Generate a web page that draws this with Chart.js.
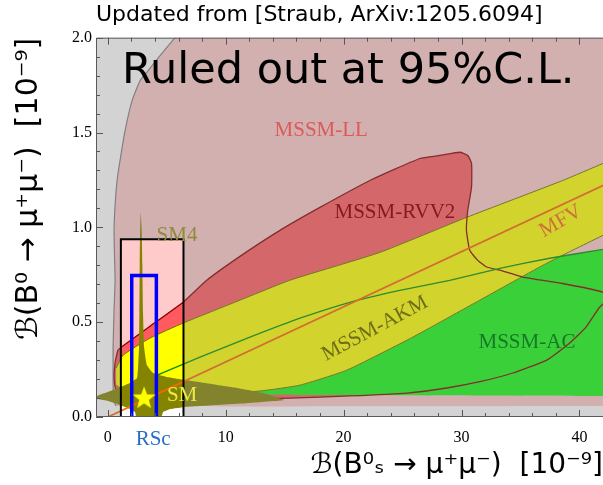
<!DOCTYPE html>
<html><head><meta charset="utf-8">
<script src="https://cdn.jsdelivr.net/npm/chart.js@4.4.1/dist/chart.umd.min.js"></script>
<style>html,body{margin:0;padding:0;background:#fff;}#c{display:block;}</style>
</head><body>
<canvas id="c" width="603" height="485"></canvas>
<script>
// ---------- values (x: B(Bs->mumu), y: B(B0->mumu), units 1e-9) ----------
const llEdge = [[6.4,2.05],[5.70,2.0],[4.43,1.905],[3.42,1.826],[2.74,1.774],[2.06,1.668],[1.47,1.511],[1.04,1.353],[0.79,1.247],[0.62,1.116],[0.53,0.984],[0.58,0.826],[0.62,0.721],[0.53,0.563],[0.45,0.368],[0.45,0.195],[0.48,0.089],[0.70,0.058]];
const llOuter = [[42.5,0.058],[45,0.058],[45,2.2],[6.9,2.2]];
const rvv2Region = [[0.62,0.289],[0.87,0.353],[1.19,0.370],[3.58,0.479],[6.41,0.607],[8.39,0.721],[11.21,0.847],[14.6,0.984],[17.99,1.105],[22.23,1.247],[26.47,1.363],[28.16,1.379],[29.86,1.396],[30.53,1.379],[30.85,1.337],[30.85,1.212],[30.53,1.089],[30.42,0.984],[30.70,0.879],[31.38,0.826],[32.12,0.791],[33.25,0.774],[35.19,0.738],[38.58,0.704],[41.97,0.659],[42.6,0.63],[41.72,0.58],[40.56,0.474],[39.16,0.389],[37.23,0.300],[34.35,0.232],[31.55,0.186],[28.75,0.153],[25.36,0.126],[20.53,0.111],[15.45,0.100],[7.82,0.089],[1.89,0.089],[0.70,0.142],[0.53,0.221],[0.62,0.289]];
const acUpper = [[3.58,0.205],[7.82,0.316],[12.06,0.421],[16.30,0.521],[20.53,0.605],[24.77,0.668],[29.0,0.721],[33.25,0.784],[37.48,0.837],[42,0.884],[45,0.915]];
const acLower = [[45,0.111],[42,0.111],[16.3,0.116],[3.58,0.126]];
const akmUpper = [[0.71,0.258],[1.30,0.326],[3.58,0.416],[6.38,0.495],[11.21,0.616],[15.45,0.721],[23.08,0.868],[30.45,1.053],[38.58,1.247],[42,1.337],[45,1.416]];
const akmLower = [[45,1.05],[42,0.958],[37.23,0.811],[31.55,0.616],[25.86,0.421],[20.27,0.247],[16.3,0.168],[12.91,0.137],[7.82,0.121],[1.89,0.121],[0.71,0.168]];
const smRegion = [[-1.2,0.105],[0.45,0.142],[1.89,0.179],[2.48,0.205],[2.57,0.263],[2.65,0.368],[2.68,0.547],[2.71,0.811],[2.74,0.984],[2.80,1.079],[2.88,0.984],[2.93,0.811],[2.99,0.547],[3.08,0.368],[3.31,0.274],[3.84,0.232],[5.0,0.211],[7.54,0.186],[10.36,0.159],[13.16,0.126],[14.94,0.089],[12.06,0.074],[7.82,0.058],[6.55,0.053],[5.28,0.042],[4.69,0.026],[4.43,-0.02],[2.48,-0.02],[2.31,0.026],[1.89,0.042],[1.04,0.063],[0.03,0.084],[-1.2,0.098]];
const mfvLine = [[0,0],[43,1.25]];
const boxSM4X = [1.11, 6.42];
const boxSM4Top = 0.937;
const boxRScX = [2.03, 4.12];
const boxRScTop = 0.746;
const smPoint = [3.08, 0.098];
const xTickValues = [0, 10, 20, 30, 40];
const xTickLabels = ['0', '10', '20', '30', '40'];
const yTickValues = [0, 0.5, 1.0, 1.5, 2.0];
const yTickLabels = ['0.0', '0.5', '1.0', '1.5', '2.0'];

// ---------- text annotations (positions in data units) ----------
const annotations = [
  {text:'Ruled out at 95%C.L.', x:20.4, y:1.759, size:43, family:'DejaVu Sans', color:'#000000', base:'alphabetic', rot:0},
  {text:'MSSM-LL', x:18.1, y:1.511, color:'#dc5a5a'},
  {text:'MSSM-RVV2', x:24.35, y:1.081, color:'#87191e'},
  {text:'MFV', x:38.42, y:1.032, color:'#cd6e3c', rot:-30},
  {text:'MSSM-AKM', x:22.65, y:0.466, color:'#6e6e19', rot:-28},
  {text:'MSSM-AC', x:35.55, y:0.395, color:'#197828'},
  {text:'SM4', x:5.87, y:0.958, color:'#8c8c3c'},
  {text:'SM', x:6.30, y:0.111, color:'#ebeb46'},
  {text:'RSc', x:3.85, y:-0.121, color:'#286ec8'}
];

const pts = a => a.map(([x, y]) => ({x, y}));
function boxPath(xs, top) { return [[xs[0], -0.05], [xs[0], top], [xs[1], top], [xs[1], -0.05]]; }
function overlayPath(xs, top) { return [[-2,-1],[-2,3],[45,3],[45,-1],[xs[1],-1],[xs[1],top],[xs[0],top],[xs[0],-1],[-2,-1]]; }

function makeStar(r) {
  const c = document.createElement('canvas');
  c.width = c.height = 2 * r + 2;
  const g = c.getContext('2d');
  g.fillStyle = '#ffff00';
  g.beginPath();
  for (let i = 0; i < 10; i++) {
    const a = -Math.PI / 2 + i * Math.PI / 5;
    const rr = i % 2 ? r * 0.42 : r;
    g.lineTo(r + 1 + rr * Math.cos(a), r + 1 + rr * Math.sin(a));
  }
  g.closePath(); g.fill();
  return c;
}

const layers = [ // bottom -> top
  {data: pts(llEdge.concat(llOuter)), fill:'shape', backgroundColor:'#ffcaca', borderWidth:0, tension:0.15},
  {data: pts(rvv2Region), fill:'shape', backgroundColor:'#ff5a5f', borderWidth:0, tension:0.15},
  {data: pts(acUpper.concat(acLower)), fill:'shape', backgroundColor:'#14fa14', borderWidth:0, tension:0.15},
  {data: pts(akmUpper.concat(akmLower)), fill:'shape', backgroundColor:'#ffff00', borderColor:'#707000', borderWidth:1, tension:0.15},
  {data: pts(llEdge), fill:false, borderColor:'#808080', borderWidth:1.2, tension:0.15},
  {data: pts(rvv2Region), fill:false, borderColor:'#860000', borderWidth:1.3, tension:0.15},
  {data: pts(acUpper), fill:false, borderColor:'#009200', borderWidth:1.3, tension:0.15},
  {data: pts(smRegion), fill:'shape', backgroundColor:'#848400', borderWidth:0, tension:0.1},
  {data: pts(mfvLine), fill:false, borderColor:'#fe6408', borderWidth:1.8, tension:0},
  {data: pts(overlayPath(boxSM4X, boxSM4Top)), fill:'shape', backgroundColor:'rgba(128,128,128,0.35)', borderWidth:0, tension:0},
  {data: pts(boxPath(boxSM4X, boxSM4Top)), fill:false, borderColor:'#000000', borderWidth:2, tension:0},
  {data: pts(boxPath(boxRScX, boxRScTop)), fill:false, borderColor:'#0000ff', borderWidth:3.5, tension:0},
  {data: pts([smPoint]), showLine:false, pointStyle: makeStar(12), pointRadius: 12}
];
layers.forEach((d, i) => {
  d.order = layers.length - i;
  if (d.showLine === undefined) d.showLine = true;
  if (d.pointRadius === undefined) d.pointRadius = 0;
  d.pointHoverRadius = d.pointRadius;
});

const decorPlugin = {
  id: 'decor',
  afterDatasetsDraw(chart) {
    const {ctx, chartArea: a, scales: {x, y}} = chart;
    ctx.save();
    ctx.strokeStyle = '#555555'; ctx.lineWidth = 1;
    ctx.beginPath();
    for (let v = 0; v <= 42.001; v += 2) {
      const px = Math.round(x.getPixelForValue(v)) + 0.5;
      const len = Math.abs(v % 10) < 1e-6 ? 7 : 4;
      ctx.moveTo(px, a.bottom); ctx.lineTo(px, a.bottom - len);
      ctx.moveTo(px, a.top); ctx.lineTo(px, a.top + len);
    }
    for (let k = 0; k <= 20; k++) {
      const v = k / 10;
      const py = Math.round(y.getPixelForValue(v)) + 0.5;
      const len = k % 5 === 0 ? 7 : 4;
      ctx.moveTo(a.left, py); ctx.lineTo(a.left + len, py);
    }
    ctx.stroke();
    ctx.strokeStyle = '#5a5a5a';
    ctx.beginPath();
    ctx.moveTo(a.right, a.top + 0.5); ctx.lineTo(a.left + 0.5, a.top + 0.5);
    ctx.lineTo(a.left + 0.5, a.bottom - 0.5); ctx.lineTo(a.right, a.bottom - 0.5);
    ctx.stroke();
    ctx.restore();
  },
  afterDraw(chart) {
    const {ctx, scales: {x, y}} = chart;
    annotations.forEach(t => {
      ctx.save();
      ctx.translate(x.getPixelForValue(t.x), y.getPixelForValue(t.y));
      ctx.rotate((t.rot || 0) * Math.PI / 180);
      ctx.font = (t.size || 21) + 'px "' + (t.family || 'Liberation Serif') + '"';
      ctx.fillStyle = t.color;
      ctx.textAlign = 'center';
      ctx.textBaseline = t.base || 'middle';
      ctx.fillText(t.text, 0, 0);
      ctx.restore();
    });
  }
};

new Chart(document.getElementById('c'), {
  type: 'scatter',
  data: {datasets: layers},
  options: {
    responsive: false, animation: false, devicePixelRatio: 1, events: [],
    layout: {padding: 0, autoPadding: false},
    plugins: {
      legend: {display: false}, tooltip: {enabled: false},
      title: {display: true, text: 'Updated from [Straub, ArXiv:1205.6094]', align: 'start', fullSize: false,
        color: '#000', font: {family: 'DejaVu Sans', size: 22, weight: 'normal'}, padding: {top: 2, bottom: 9.3}}
    },
    scales: {
      x: {type: 'linear', min: -1, max: 42, position: 'bottom',
        grid: {display: false, drawTicks: false}, border: {display: false},
        afterBuildTicks: s => { s.ticks = xTickValues.map(v => ({value: v})); },
        ticks: {padding: 11, color: '#000', font: {family: 'Liberation Serif', size: 16}, maxRotation: 0, autoSkip: false,
          callback: (v, i) => xTickLabels[i]},
        title: {display: true, text: 'ℬ(B⁰ₛ → μ⁺μ⁻)  [10⁻⁹]', align: 'end', color: '#000',
          font: {family: 'DejaVu Sans', size: 28}, padding: {top: 0, bottom: 2}},
        afterFit: s => { s.height = 68; s.paddingLeft = 0; s.paddingRight = 0; }
      },
      y: {type: 'linear', min: 0, max: 2, position: 'left',
        grid: {display: false, drawTicks: false}, border: {display: false},
        afterBuildTicks: s => { s.ticks = yTickValues.map(v => ({value: v})); },
        ticks: {padding: 4, color: '#000', font: {family: 'Liberation Serif', size: 16}, autoSkip: false,
          callback: (v, i) => yTickLabels[i]},
        title: {display: true, text: 'ℬ(B⁰ → μ⁺μ⁻)  [10⁻⁹]', align: 'end', color: '#000',
          font: {family: 'DejaVu Sans', size: 30}, padding: {top: 11, bottom: 0}},
        afterFit: s => { s.width = 96; s.paddingTop = 0; s.paddingBottom = 0; }
      }
    }
  },
  plugins: [decorPlugin]
});
</script>
</body></html>
